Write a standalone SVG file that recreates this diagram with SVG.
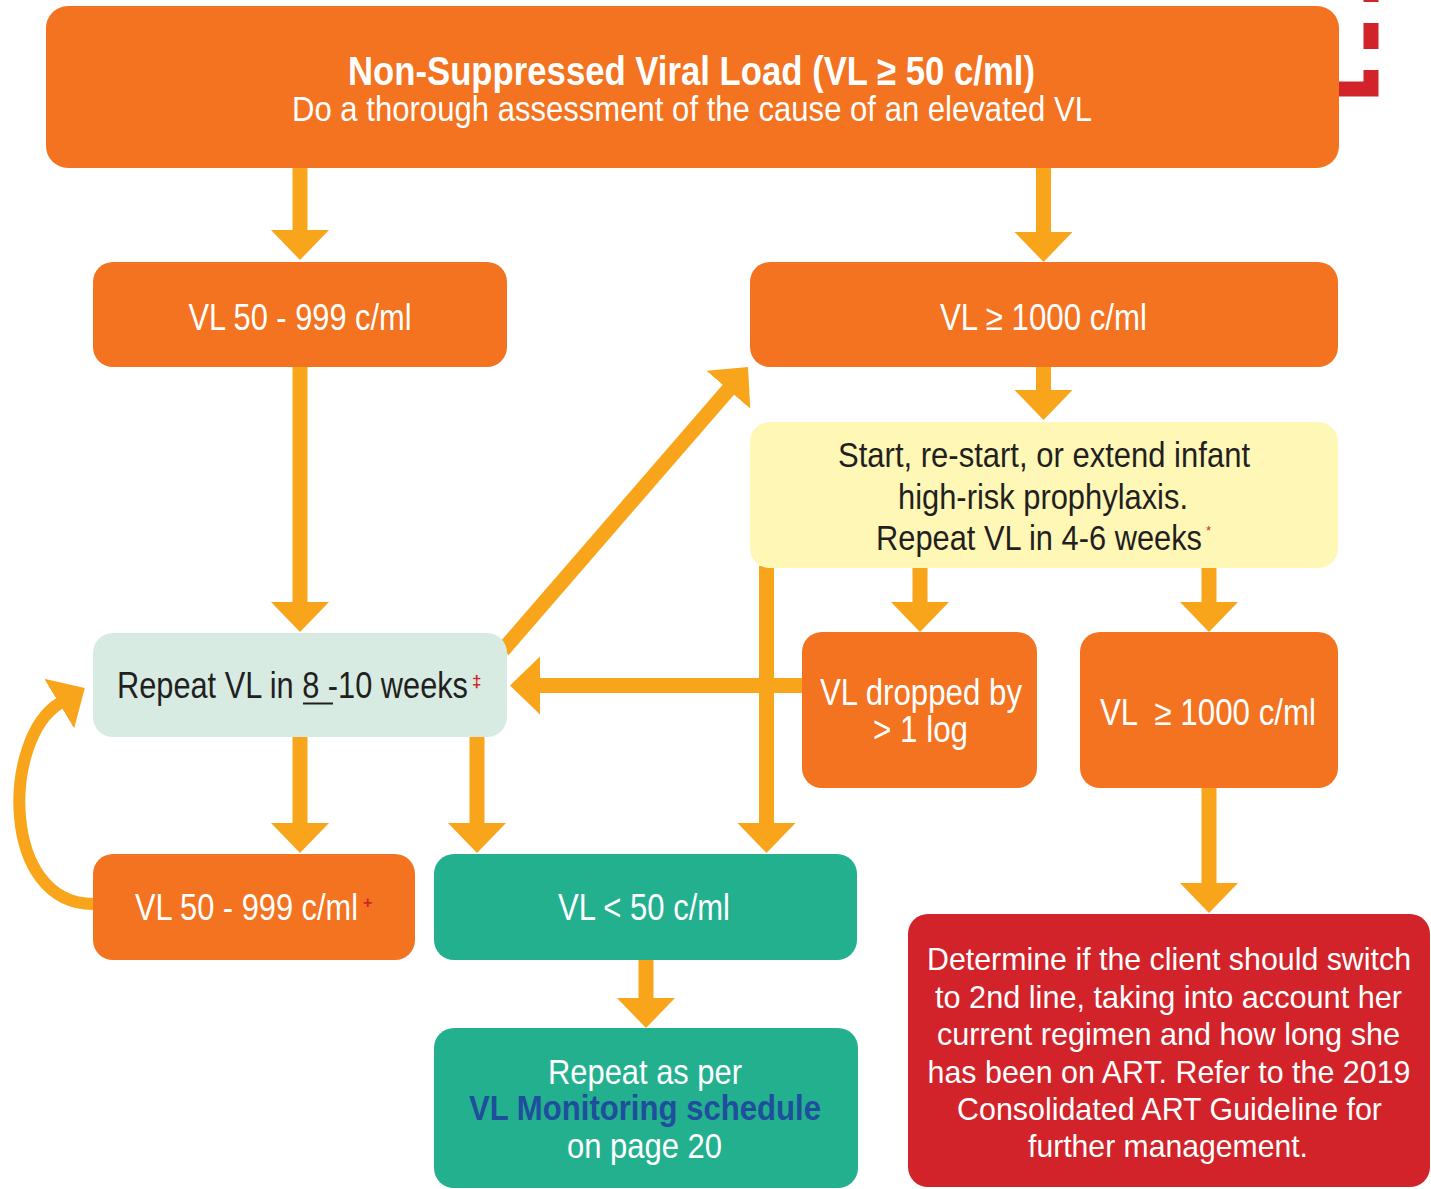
<svg xmlns="http://www.w3.org/2000/svg" width="1431" height="1189" viewBox="0 0 1431 1189">
<style>
text{font-family:"Liberation Sans",Arial,sans-serif;}
.or{fill:#F37321;}
.tl{fill:#22B08F;}
.wt{fill:#FFFFFF;}
.dk{fill:#231F20;}
.ar{stroke:#F9A51C;stroke-width:15;fill:none;}
.c{text-anchor:middle;}
</style>
<defs>
<marker id="ah" viewBox="0 0 30 58" refX="1" refY="29" markerWidth="30" markerHeight="58" markerUnits="userSpaceOnUse" orient="auto">
<path d="M0,0 L30,29 L0,58 Z" fill="#F9A51C"/>
</marker>
</defs>
<rect width="1431" height="1189" fill="#FFFFFF"/>

<g id="connectors">
<line class="ar" x1="300" y1="168" x2="300" y2="231" marker-end="url(#ah)"/>
<line class="ar" x1="1043.5" y1="168" x2="1043.5" y2="233" marker-end="url(#ah)"/>
<line class="ar" x1="1043.5" y1="367" x2="1043.5" y2="391" marker-end="url(#ah)"/>
<line class="ar" x1="300" y1="367" x2="300" y2="603" marker-end="url(#ah)"/>
<line class="ar" x1="920" y1="568" x2="920" y2="603" marker-end="url(#ah)"/>
<line class="ar" x1="1209" y1="568" x2="1209" y2="603" marker-end="url(#ah)"/>
<line class="ar" x1="766.5" y1="566" x2="766.5" y2="824" marker-end="url(#ah)"/>
<line class="ar" x1="300" y1="737" x2="300" y2="824" marker-end="url(#ah)"/>
<line class="ar" x1="477" y1="737" x2="477" y2="824" marker-end="url(#ah)"/>
<line class="ar" x1="646" y1="960" x2="646" y2="999" marker-end="url(#ah)"/>
<line class="ar" x1="1209" y1="787" x2="1209" y2="884" marker-end="url(#ah)"/>
<line class="ar" x1="802" y1="685.5" x2="539" y2="685.5" marker-end="url(#ah)"/>
<line class="ar" x1="503" y1="650" x2="729" y2="389" marker-end="url(#ah)"/>
<path class="ar" style="stroke-width:12" d="M94,904 C0,905 2,738 60,703" marker-end="url(#ah)"/>
<path d="M1339,89 H1371 V0" fill="none" stroke="#D2232A" stroke-width="15" stroke-dasharray="51 21 26 21"/>
</g>

<g id="n-top">
<rect class="or" x="46" y="6" width="1293" height="162" rx="22"/>
<text class="wt c" x="691.5" y="85" font-size="41" font-weight="bold" textLength="687" lengthAdjust="spacingAndGlyphs">Non-Suppressed Viral Load (VL ≥ 50 c/ml)</text>
<text class="wt c" x="692" y="121" font-size="35" textLength="800" lengthAdjust="spacingAndGlyphs">Do a thorough assessment of the cause of an elevated VL</text>
</g>

<g id="n-vl50-top">
<rect class="or" x="93" y="262" width="414" height="105" rx="20"/>
<text class="wt c" x="300" y="330" font-size="36" textLength="223" lengthAdjust="spacingAndGlyphs">VL 50 - 999 c/ml</text>
</g>

<g id="n-vl1000-top">
<rect class="or" x="750" y="262" width="588" height="105" rx="20"/>
<text class="wt c" x="1043.5" y="330" font-size="36" textLength="207" lengthAdjust="spacingAndGlyphs">VL ≥ 1000 c/ml</text>
</g>

<g id="n-prophylaxis">
<rect x="750" y="422" width="588" height="146" rx="20" fill="#FFF7B6"/>
<text class="dk c" x="1044" y="467" font-size="35" textLength="412" lengthAdjust="spacingAndGlyphs">Start, re-start, or extend infant</text>
<text class="dk c" x="1043" y="509" font-size="35" textLength="290" lengthAdjust="spacingAndGlyphs">high-risk prophylaxis.</text>
<text class="dk c" x="1039" y="550" font-size="35" textLength="326" lengthAdjust="spacingAndGlyphs">Repeat VL in 4-6 weeks</text>
<text x="1206" y="535" font-size="13" fill="#D2232A">*</text>
</g>

<g id="n-repeat810">
<rect x="93" y="633" width="414" height="104" rx="20" fill="#D7EBE3"/>
<text class="dk" x="117" y="698" font-size="36" textLength="351" lengthAdjust="spacingAndGlyphs">Repeat VL in 8 -10 weeks</text>
<line x1="303" y1="703.5" x2="333" y2="703.5" stroke="#231F20" stroke-width="2"/>
<text x="472" y="687" font-size="17" font-weight="bold" fill="#D2232A">‡</text>
</g>

<g id="n-dropped">
<rect class="or" x="802" y="632" width="235" height="156" rx="20"/>
<text class="wt c" x="921" y="705" font-size="36" textLength="202" lengthAdjust="spacingAndGlyphs">VL dropped by</text>
<text class="wt c" x="920.5" y="742" font-size="36" textLength="95" lengthAdjust="spacingAndGlyphs">&gt; 1 log</text>
</g>

<g id="n-vl1000-second">
<rect class="or" x="1080" y="632" width="258" height="156" rx="20"/>
<text class="wt c" x="1208" y="725" font-size="36" textLength="216" lengthAdjust="spacingAndGlyphs" xml:space="preserve">VL  ≥ 1000 c/ml</text>
</g>

<g id="n-vl50-bottom">
<rect class="or" x="93" y="854" width="322" height="106" rx="20"/>
<text class="wt" x="135" y="920" font-size="36" textLength="223" lengthAdjust="spacingAndGlyphs">VL 50 - 999 c/ml</text>
<text x="363" y="908" font-size="16" font-weight="bold" fill="#D2232A">+</text>
</g>

<g id="n-vl-below50">
<rect class="tl" x="434" y="854" width="423" height="106" rx="20"/>
<text class="wt c" x="644" y="920" font-size="36" textLength="172" lengthAdjust="spacingAndGlyphs">VL &lt; 50 c/ml</text>
</g>

<g id="n-repeat-schedule">
<rect class="tl" x="434" y="1028" width="424" height="160" rx="20"/>
<text class="wt c" x="645" y="1084" font-size="35" textLength="194" lengthAdjust="spacingAndGlyphs">Repeat as per</text>
<text class="c" x="645" y="1120" font-size="35" font-weight="bold" fill="#1F4E9C" textLength="352" lengthAdjust="spacingAndGlyphs">VL Monitoring schedule</text>
<text class="wt c" x="644.5" y="1158" font-size="35" textLength="155" lengthAdjust="spacingAndGlyphs">on page 20</text>
</g>

<g id="n-switch">
<rect x="908" y="914" width="522" height="273" rx="20" fill="#D2232A"/>
<text class="wt c" x="1169" y="970" font-size="32" textLength="484" lengthAdjust="spacingAndGlyphs">Determine if the client should switch</text>
<text class="wt c" x="1168.5" y="1008" font-size="32" textLength="467" lengthAdjust="spacingAndGlyphs">to 2nd line, taking into account her</text>
<text class="wt c" x="1168.5" y="1045" font-size="32" textLength="463" lengthAdjust="spacingAndGlyphs">current regimen and how long she</text>
<text class="wt c" x="1169" y="1083" font-size="32" textLength="483" lengthAdjust="spacingAndGlyphs">has been on ART. Refer to the 2019</text>
<text class="wt c" x="1169.5" y="1120" font-size="32" textLength="425" lengthAdjust="spacingAndGlyphs">Consolidated ART Guideline for</text>
<text class="wt c" x="1168" y="1157" font-size="32" textLength="280" lengthAdjust="spacingAndGlyphs">further management.</text>
</g>
</svg>
